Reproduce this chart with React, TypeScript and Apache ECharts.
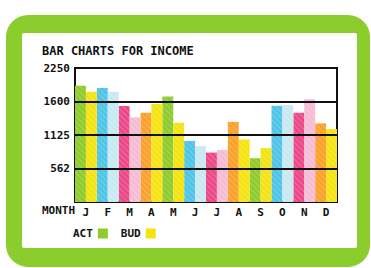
import React, { useEffect, useRef } from "react";
import * as echarts from "echarts";

const months = ["J", "F", "M", "A", "M", "J", "J", "A", "S", "O", "N", "D"];
const actual = [1950, 1915, 1610, 1500, 1770, 1025, 830, 1345, 735, 1615, 1500, 1320];
const budget = [1850, 1850, 1420, 1645, 1330, 940, 875, 1050, 905, 1630, 1725, 1225];
const tickValues = [562.5, 1125, 1687.5, 2250];
const tickLabels = ["562", "1125", "1600", "2250"];

const actColors = ["#8fcb2c", "#4ec4e6", "#ec4787", "#f9a12a"];
const budColors = ["#f3e312", "#c8e9f2", "#f6bcd4", "#f6e312"];

const FONT = "DejaVu Sans Mono";

const hatch = {
  symbol: "rect",
  symbolSize: 1,
  color: "rgba(255,255,255,0.22)",
  dashArrayX: [1, 0],
  dashArrayY: [1, 3],
  rotation: Math.PI / 4,
};

export default function App() {
  const ref = useRef<HTMLDivElement>(null);
  useEffect(() => {
    if (!ref.current) return;
    const chart = echarts.init(ref.current, null, { renderer: "svg" });
    chart.setOption({
      animation: false,
      backgroundColor: "#ffffff",
      title: {
        text: "BAR CHARTS FOR INCOME",
        left: 42,
        top: 45,
        padding: 0,
        textStyle: { fontFamily: FONT, fontWeight: "bold", fontSize: 12, color: "#111" },
      },
      graphic: [
        {
          type: "rect",
          z: -10,
          shape: { x: 6, y: 15, width: 364, height: 252, r: 22 },
          style: { fill: "#8ccd2e" },
        },
        {
          type: "rect",
          z: -9,
          shape: { x: 22, y: 33, width: 335, height: 215, r: 2 },
          style: { fill: "#ffffff" },
        },
        {
          type: "text",
          left: 42,
          top: 205,
          style: {
            text: "MONTH",
            fontFamily: FONT,
            fontWeight: "bold",
            fontSize: 11,
            fill: "#111",
          },
        },
      ],
      legend: {
        left: 73,
        top: 228,
        padding: 0,
        align: "right",
        itemGap: 13,
        itemWidth: 10,
        itemHeight: 10,
        icon: "rect",
        textStyle: { fontFamily: FONT, fontWeight: "bold", fontSize: 11, color: "#111" },
        data: ["ACT", "BUD"],
      },
      grid: {
        left: 75,
        right: 34,
        top: 68,
        bottom: 66,
        show: true,
        borderColor: "#111",
        borderWidth: 2,
        backgroundColor: "transparent",
      },
      xAxis: {
        type: "category",
        data: months,
        axisLine: { show: false },
        axisTick: { show: false },
        axisLabel: { fontFamily: FONT, fontWeight: "bold", fontSize: 11, color: "#111", margin: 5 },
      },
      yAxis: {
        type: "value",
        min: 0,
        max: 2250,
        interval: 562.5,
        splitLine: { show: false },
        axisLine: { show: false },
        axisTick: { show: false },
        axisLabel: {
          fontFamily: FONT,
          fontWeight: "bold",
          fontSize: 11,
          color: "#111",
          margin: 5,
          formatter: (v: number) => {
            const i = tickValues.findIndex((t) => Math.abs(t - v) < 0.01);
            return i >= 0 ? tickLabels[i] : "";
          },
        },
      },
      series: [
        {
          name: "ACT",
          type: "bar",
          barGap: "0%",
          barCategoryGap: "0%",
          itemStyle: { color: actColors[0] },
          data: actual.map((v, i) => ({
            value: v,
            itemStyle: { color: actColors[i % 4], decal: hatch },
          })),
        },
        {
          name: "BUD",
          type: "bar",
          barGap: "0%",
          barCategoryGap: "0%",
          itemStyle: { color: budColors[0] },
          data: budget.map((v, i) => ({
            value: v,
            itemStyle: { color: budColors[i % 4], decal: hatch },
          })),
          markLine: {
            silent: true,
            symbol: "none",
            label: { show: false },
            lineStyle: { color: "#111", width: 2, type: "solid" },
            data: tickValues.slice(0, 3).map((t) => ({ yAxis: t })),
          },
        },
      ],
    });
    return () => chart.dispose();
  }, []);
  return (
    <div
      ref={ref}
      style={{ position: "fixed", left: 0, top: 0, width: 371, height: 268 }}
    />
  );
}
